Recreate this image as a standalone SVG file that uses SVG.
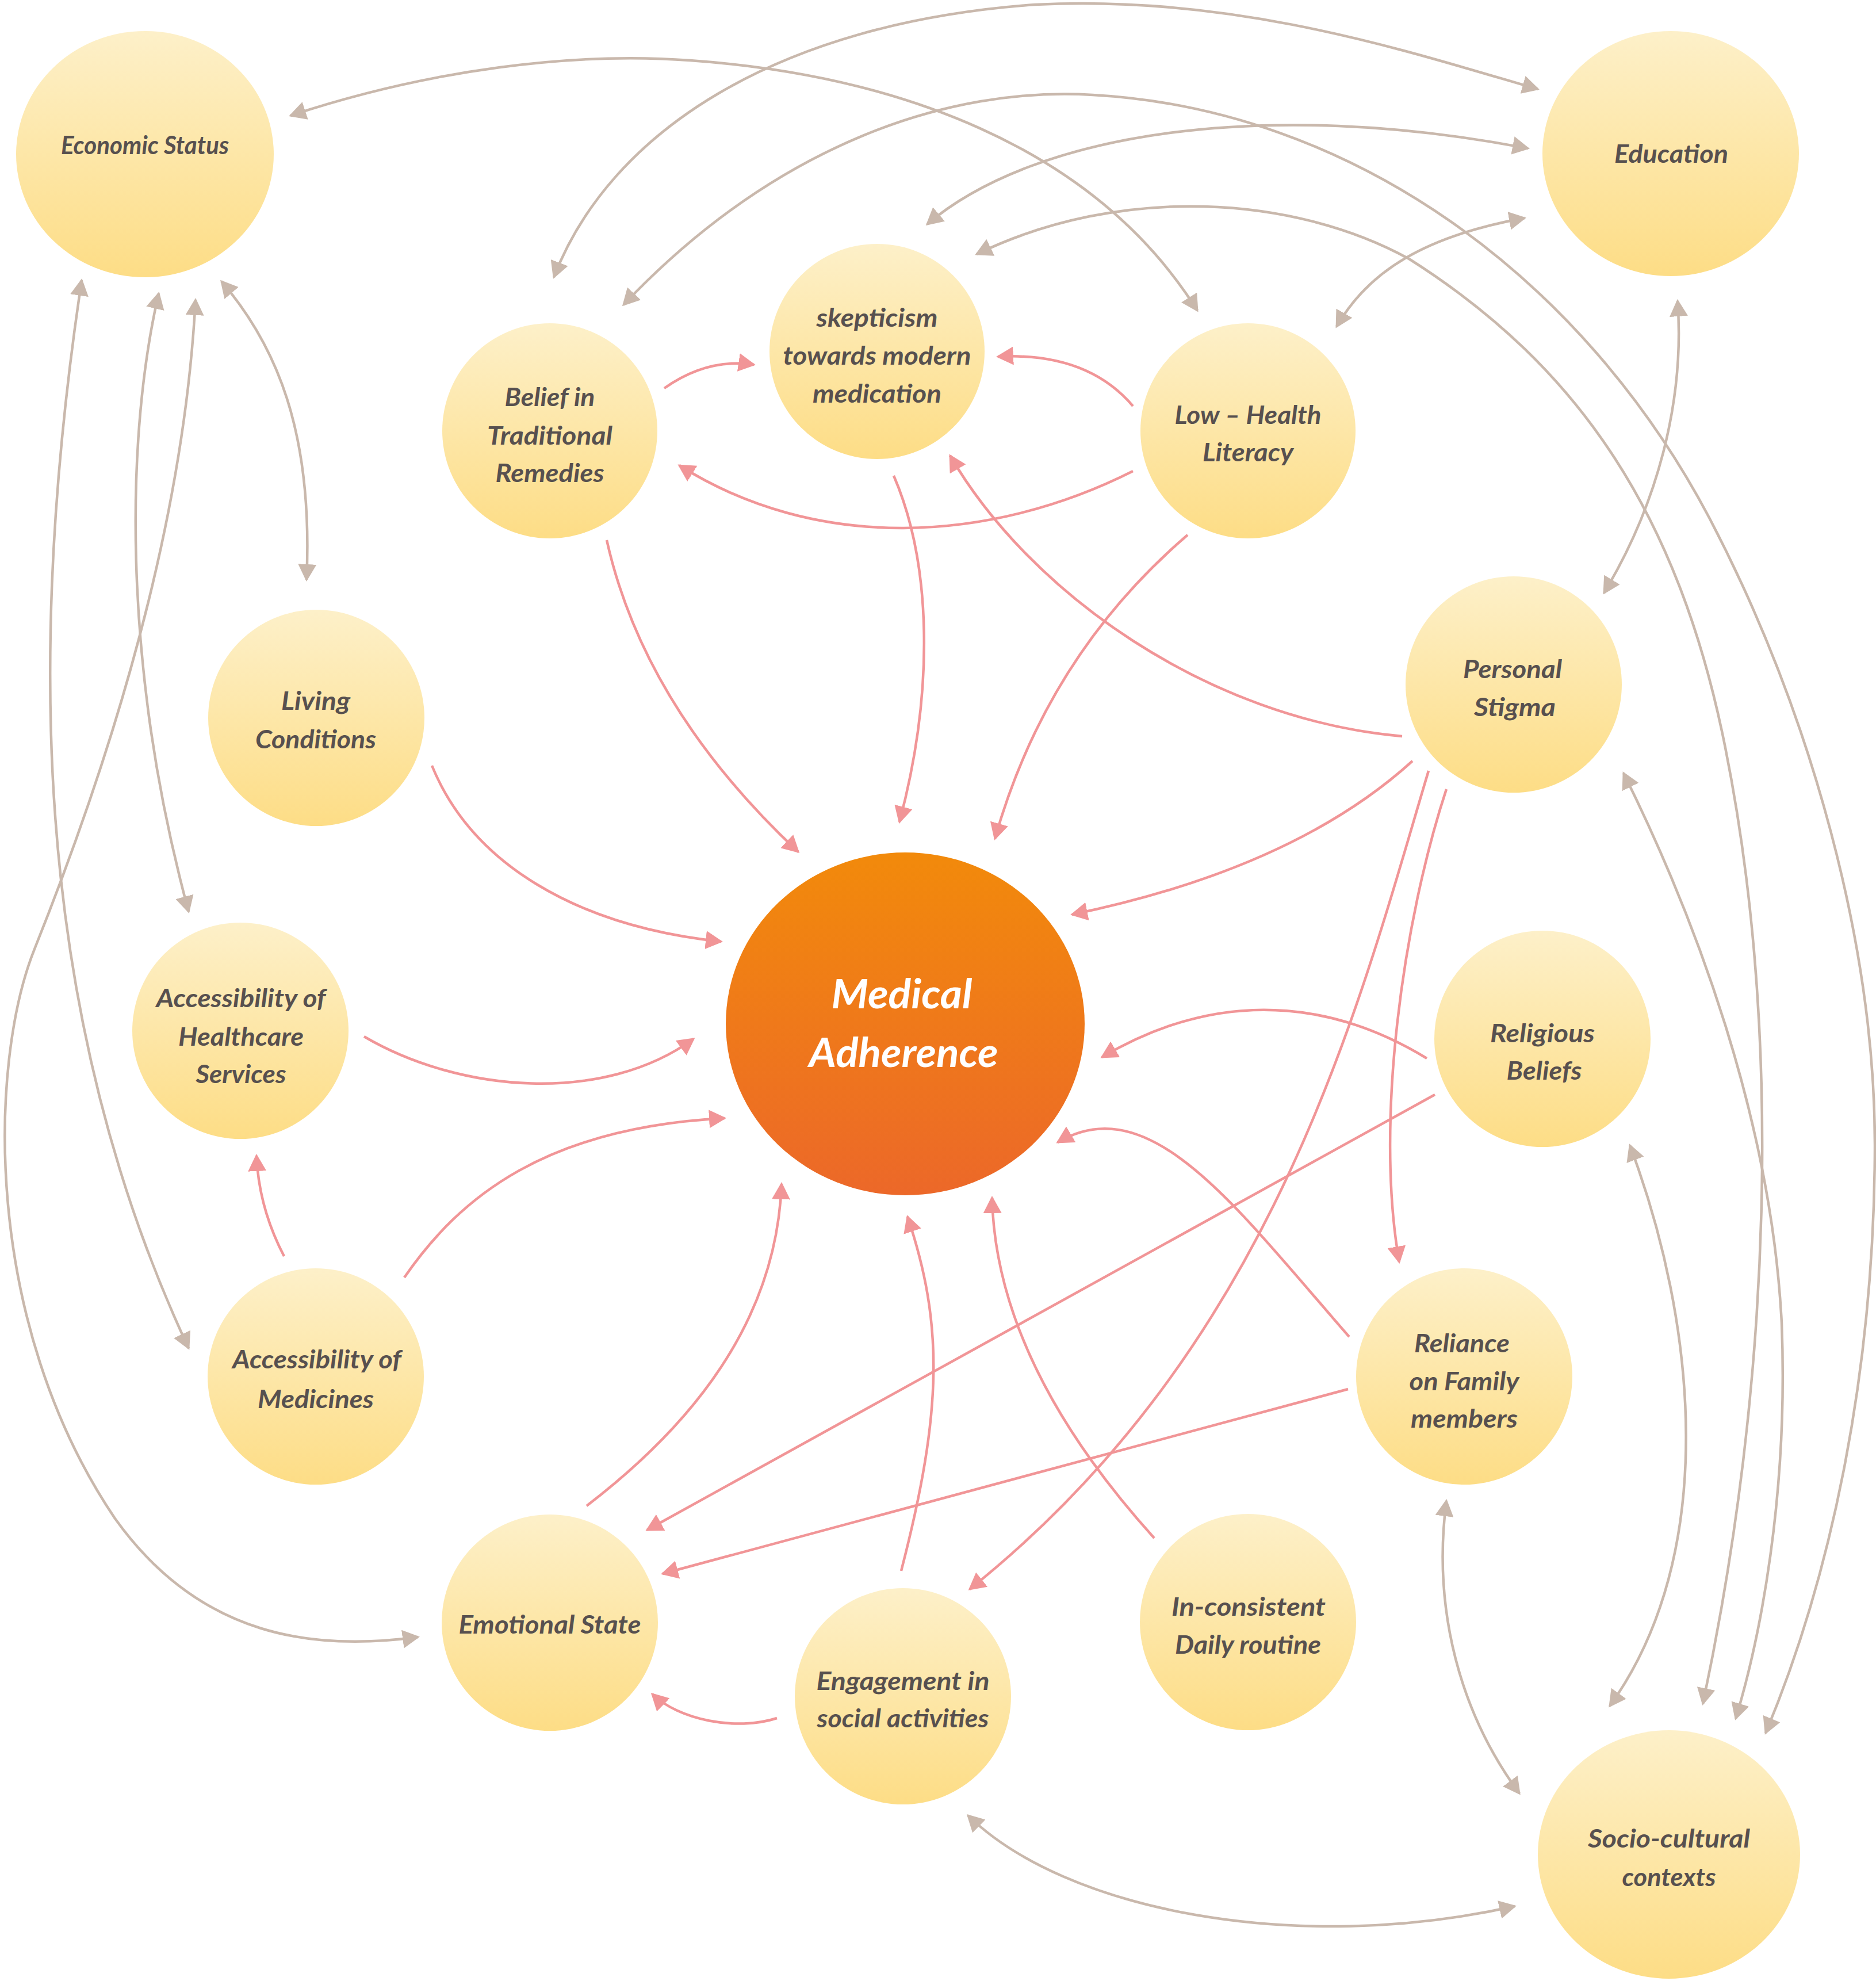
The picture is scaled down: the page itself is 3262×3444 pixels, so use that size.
<svg xmlns="http://www.w3.org/2000/svg" width="3262" height="3444" viewBox="0 0 3262 3444">
<defs>
<style>
.bg{fill:#ffffff}
.n{fill:url(#gy)}
.ma{fill:url(#go)}
.t{font-family:Lato,"Open Sans","Liberation Sans",sans-serif;font-style:italic;font-weight:700;font-size:43px;fill:#57504f;text-anchor:middle}
.tm{font-family:Lato,"Open Sans","Liberation Sans",sans-serif;font-style:italic;font-weight:700;font-size:70px;fill:#ffffff;text-anchor:middle}
.b{fill:none;stroke:#c9b8ac;stroke-width:4.5;marker-start:url(#ab);marker-end:url(#ab)}
.r{fill:none;stroke:#f19597;stroke-width:4.5;marker-end:url(#ar)}
</style>
<linearGradient id="gy" x1="0" y1="0" x2="0" y2="1">
<stop offset="0" stop-color="#fdf0c9"/>
<stop offset="1" stop-color="#fddd86"/>
</linearGradient>
<linearGradient id="go" x1="0" y1="0" x2="0" y2="1">
<stop offset="0" stop-color="#f28a0b"/>
<stop offset="1" stop-color="#ec6829"/>
</linearGradient>
<marker id="ab" markerUnits="userSpaceOnUse" viewBox="0 0 30 32" markerWidth="30" markerHeight="32" refX="27" refY="16" orient="auto-start-reverse">
<path d="M0,0 L30,16 L0,32 Z" fill="#c9b8ac"/>
</marker>
<marker id="ar" markerUnits="userSpaceOnUse" viewBox="0 0 30 32" markerWidth="30" markerHeight="32" refX="27" refY="16" orient="auto-start-reverse">
<path d="M0,0 L30,16 L0,32 Z" fill="#f19597"/>
</marker>
</defs>
<rect class="bg" x="0" y="0" width="3262" height="3444"/>

<g id="connectors">
<path class="b" d="M505,201 C750,120 1000,90 1200,105 C1550,130 1900,250 2082,540"/>
<path class="b" d="M963,482 C1060,230 1350,40 1800,8 C2150,-10 2450,90 2674,155"/>
<path class="b" d="M1084,530 C1350,250 1650,150 1900,165 C2350,190 2750,480 2972,900 C3150,1240 3262,1650 3260,2000 C3258,2400 3180,2750 3070,3013"/>
<path class="b" d="M1612,390 C1800,230 2200,170 2657,258"/>
<path class="b" d="M1698,442 C1950,320 2250,340 2450,450 C2750,640 2920,900 3000,1300 C3100,1800 3080,2400 2961,2962"/>
<path class="b" d="M2324,568 C2380,470 2480,410 2651,379"/>
<path class="b" d="M2917,523 C2930,700 2880,880 2789,1031"/>
<path class="b" d="M2823,1344 C2950,1600 3080,1950 3098,2300 C3110,2600 3060,2850 3018,2988"/>
<path class="b" d="M2834,1991 C2950,2300 2990,2700 2799,2966"/>
<path class="b" d="M2515,2609 C2490,2800 2540,2980 2642,3118"/>
<path class="b" d="M1683,3156 C1850,3320 2250,3400 2634,3314"/>
<path class="b" d="M385,489 C480,600 545,750 533,1008"/>
<path class="b" d="M276,510 C220,750 210,1150 328,1585"/>
<path class="b" d="M142,487 C50,1100 50,1750 328,2344"/>
<path class="b" d="M340,521 C320,900 200,1300 60,1650 C-20,1850 -30,2300 200,2640 C350,2850 550,2870 727,2846"/>

<path class="r" d="M1155,675 Q1230,622 1311,634"/>
<path class="r" d="M1970,706 Q1890,612 1735,620"/>
<path class="r" d="M1970,819 C1720,945 1420,960 1181,809"/>
<path class="r" d="M1055,939 Q1120,1230 1388,1481"/>
<path class="r" d="M1554,827 C1620,980 1625,1200 1564,1429"/>
<path class="r" d="M2065,930 Q1820,1140 1730,1458"/>
<path class="r" d="M2438,1280 C2100,1250 1790,1030 1652,792"/>
<path class="r" d="M2456,1323 Q2250,1510 1864,1590"/>
<path class="r" d="M2515,1372 C2440,1600 2390,1950 2433,2194"/>
<path class="r" d="M2484,1340 C2363,1744 2220,2336 1686,2763"/>
<path class="r" d="M2481,1840 C2350,1760 2150,1700 1916,1838"/>
<path class="r" d="M2495,1903 L1125,2660"/>
<path class="r" d="M2346,2324 C2150,2100 2000,1890 1839,1986"/>
<path class="r" d="M2344,2415 L1152,2736"/>
<path class="r" d="M2007,2674 C1850,2500 1730,2300 1725,2082"/>
<path class="r" d="M1567,2731 C1640,2450 1640,2300 1578,2115"/>
<path class="r" d="M1351,2987 C1280,3010 1180,2990 1134,2945"/>
<path class="r" d="M1020,2618 C1200,2480 1350,2300 1359,2058"/>
<path class="r" d="M703,2221 C800,2080 950,1960 1260,1944"/>
<path class="r" d="M494,2184 Q450,2100 446,2009"/>
<path class="r" d="M633,1802 C800,1900 1050,1920 1206,1806"/>
<path class="r" d="M751,1331 C820,1500 1000,1610 1254,1637"/>
</g>

<g id="economic-status">
<ellipse class="n" cx="252" cy="268" rx="224" ry="214"/>
<text class="t" x="252" y="268" textLength="292" lengthAdjust="spacingAndGlyphs">Economic Status</text>
</g>
<g id="education">
<ellipse class="n" cx="2905" cy="267" rx="223" ry="213"/>
<text class="t" x="2906" y="283" textLength="198" lengthAdjust="spacingAndGlyphs">Education</text>
</g>
<g id="belief-traditional-remedies">
<circle class="n" cx="956" cy="749" r="187"/>
<text class="t" x="956" y="706" textLength="157" lengthAdjust="spacingAndGlyphs">Belief in</text>
<text class="t" x="956" y="773" textLength="218" lengthAdjust="spacingAndGlyphs">Traditional</text>
<text class="t" x="956" y="838" textLength="189" lengthAdjust="spacingAndGlyphs">Remedies</text>
</g>
<g id="skepticism">
<circle class="n" cx="1525" cy="611" r="187"/>
<text class="t" x="1525" y="568" textLength="211" lengthAdjust="spacingAndGlyphs">skepticism</text>
<text class="t" x="1525" y="634" textLength="327" lengthAdjust="spacingAndGlyphs">towards modern</text>
<text class="t" x="1525" y="700" textLength="224" lengthAdjust="spacingAndGlyphs">medication</text>
</g>
<g id="low-health-literacy">
<circle class="n" cx="2170" cy="749" r="187"/>
<text class="t" x="2170" y="737" textLength="255" lengthAdjust="spacingAndGlyphs">Low – Health</text>
<text class="t" x="2170" y="802" textLength="158" lengthAdjust="spacingAndGlyphs">Literacy</text>
</g>
<g id="living-conditions">
<circle class="n" cx="550" cy="1248" r="188"/>
<text class="t" x="549" y="1234" textLength="120" lengthAdjust="spacingAndGlyphs">Living</text>
<text class="t" x="549" y="1301" textLength="210" lengthAdjust="spacingAndGlyphs">Conditions</text>
</g>
<g id="personal-stigma">
<circle class="n" cx="2632" cy="1190" r="188"/>
<text class="t" x="2630" y="1179" textLength="172" lengthAdjust="spacingAndGlyphs">Personal</text>
<text class="t" x="2634" y="1245" textLength="142" lengthAdjust="spacingAndGlyphs">Stigma</text>
</g>
<g id="accessibility-healthcare">
<circle class="n" cx="418" cy="1792" r="188"/>
<text class="t" x="419" y="1751" textLength="295" lengthAdjust="spacingAndGlyphs">Accessibility of</text>
<text class="t" x="419" y="1818" textLength="218" lengthAdjust="spacingAndGlyphs">Healthcare</text>
<text class="t" x="419" y="1883" textLength="157" lengthAdjust="spacingAndGlyphs">Services</text>
</g>
<g id="medical-adherence">
<ellipse class="ma" cx="1574" cy="1780" rx="312" ry="298"/>
<text class="tm" x="1568" y="1753" textLength="245" lengthAdjust="spacingAndGlyphs">Medical</text>
<text class="tm" x="1571" y="1855" textLength="329" lengthAdjust="spacingAndGlyphs">Adherence</text>
</g>
<g id="religious-beliefs">
<circle class="n" cx="2682" cy="1806" r="188"/>
<text class="t" x="2682" y="1812" textLength="182" lengthAdjust="spacingAndGlyphs">Religious</text>
<text class="t" x="2685" y="1877" textLength="131" lengthAdjust="spacingAndGlyphs">Beliefs</text>
</g>
<g id="accessibility-medicines">
<circle class="n" cx="549" cy="2393" r="188"/>
<text class="t" x="551" y="2379" textLength="294" lengthAdjust="spacingAndGlyphs">Accessibility of</text>
<text class="t" x="549" y="2448" textLength="202" lengthAdjust="spacingAndGlyphs">Medicines</text>
</g>
<g id="reliance-family">
<circle class="n" cx="2546" cy="2393" r="188"/>
<text class="t" x="2542" y="2351" textLength="166" lengthAdjust="spacingAndGlyphs">Reliance</text>
<text class="t" x="2546" y="2417" textLength="191" lengthAdjust="spacingAndGlyphs">on Family</text>
<text class="t" x="2546" y="2482" textLength="186" lengthAdjust="spacingAndGlyphs">members</text>
</g>
<g id="emotional-state">
<circle class="n" cx="956" cy="2821" r="188"/>
<text class="t" x="956" y="2840" textLength="317" lengthAdjust="spacingAndGlyphs">Emotional State</text>
</g>
<g id="engagement-social">
<circle class="n" cx="1570" cy="2949" r="188"/>
<text class="t" x="1570" y="2938" textLength="301" lengthAdjust="spacingAndGlyphs">Engagement in</text>
<text class="t" x="1570" y="3003" textLength="299" lengthAdjust="spacingAndGlyphs">social activities</text>
</g>
<g id="inconsistent-routine">
<circle class="n" cx="2170" cy="2820" r="188"/>
<text class="t" x="2171" y="2809" textLength="268" lengthAdjust="spacingAndGlyphs">In-consistent</text>
<text class="t" x="2170" y="2875" textLength="254" lengthAdjust="spacingAndGlyphs">Daily routine</text>
</g>
<g id="socio-cultural">
<ellipse class="n" cx="2902" cy="3224" rx="228" ry="216"/>
<text class="t" x="2902" y="3212" textLength="282" lengthAdjust="spacingAndGlyphs">Socio-cultural</text>
<text class="t" x="2902" y="3279" textLength="163" lengthAdjust="spacingAndGlyphs">contexts</text>
</g>
</svg>
